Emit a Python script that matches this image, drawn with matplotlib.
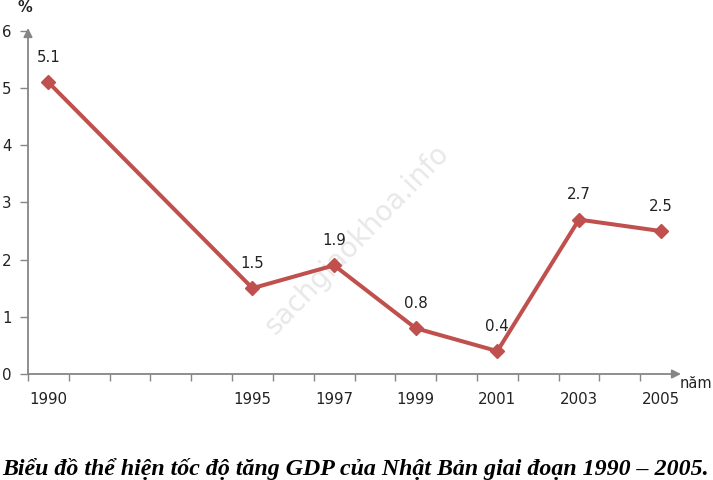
import matplotlib
matplotlib.use("Agg")
import matplotlib.pyplot as plt

# data
years = [1990, 1995, 1997, 1999, 2001, 2003, 2005]
gdp = [5.1, 1.5, 1.9, 0.8, 0.4, 2.7, 2.5]
yticks = [0, 1, 2, 3, 4, 5, 6]
title = "Biểu đồ thể hiện tốc độ tăng GDP của Nhật Bản giai đoạn 1990 – 2005."

LINE = "#C0504D"
AXIS = "#868686"
W, H = 713, 480

fig = plt.figure(figsize=(W / 100, H / 100), dpi=100)
ax = fig.add_axes([28 / W, 1 - 374 / H, (681 - 28) / W, (374 - 28) / H])
ax.set_xlim(1989.5, 2005.5)
ax.set_ylim(0, 6.05)
for s in ax.spines.values():
    s.set_visible(False)

# axis lines with arrow heads
arrow = dict(arrowstyle="-|>", color=AXIS, lw=1.3, mutation_scale=13, shrinkA=0, shrinkB=0)
ax.annotate("", xy=(1, 0), xytext=(0, 0), xycoords="axes fraction", arrowprops=arrow)
ax.annotate("", xy=(0, 1), xytext=(0, 0), xycoords="axes fraction", arrowprops=arrow)

ax.plot(years, gdp, color=LINE, lw=2.9, marker="D", ms=7, zorder=3, clip_on=False)
for x, y in zip(years, gdp):
    ax.annotate(f"{y}", (x, y), xytext=(0, 18), textcoords="offset points",
                ha="center", va="center", fontsize=10.8, color="#222")

ax.set_xticks(years)
ax.set_xticklabels([str(y) for y in years])
ax.set_xticks([y - 0.5 for y in range(1990, 2006)], minor=True)
ax.tick_params(axis="x", which="major", length=0, pad=13, labelsize=10.8, labelcolor="#222")
ax.tick_params(axis="x", which="minor", length=5, width=1, color=AXIS, direction="out")
ax.set_yticks(yticks)
ax.tick_params(axis="y", length=6, width=1, color=AXIS, direction="out", pad=6,
               labelsize=10.8, labelcolor="#222")

fig.text(25 / W, 1 - 8 / H, "%", ha="center", va="center", fontsize=10.5, weight="bold", color="#222")
fig.text(680 / W, 1 - 384 / H, "năm", ha="left", va="center", fontsize=10.5, color="#222")

# faint watermark
ax.text(357 / W, 1 - 240 / H, "sachgiaokhoa.info", transform=fig.transFigure, rotation=46,
        ha="center", va="center", fontsize=20, color="#e8e8e8", zorder=0)

fig.text(2 / W, 1 - 475 / H, title, ha="left", va="baseline", fontsize=17.2,
         family="Liberation Serif", weight="bold", style="italic", color="black")

fig.savefig("out.png", dpi=100)
